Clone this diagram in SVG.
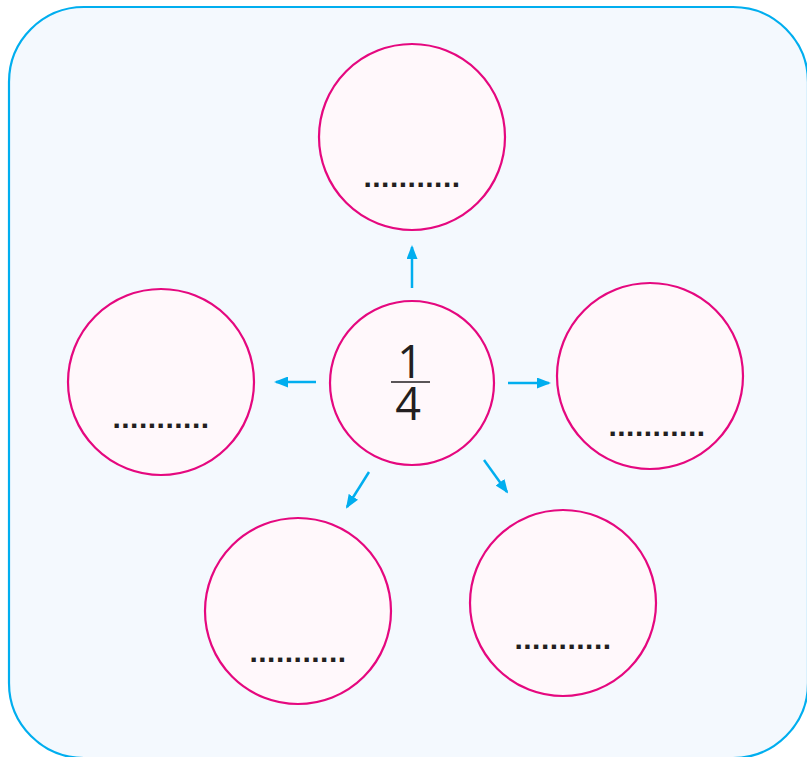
<svg xmlns="http://www.w3.org/2000/svg" width="807" height="757" viewBox="0 0 807 757">
<style>
.node{fill:#FFF8FB;stroke:#E5087F;stroke-width:2.2}
.dots{font-family:"Liberation Sans",Arial,sans-serif;font-weight:bold;font-size:30px;fill:#231F20;text-anchor:middle;letter-spacing:0.5px}
.num{font-family:"Open Sans","Liberation Sans",sans-serif;font-size:45px;font-weight:500;fill:#231F20;text-anchor:middle}
.conn{stroke:#00AEEF;stroke-width:2.5;fill:none;marker-end:url(#ah)}
</style>
<defs>
<marker id="ah" markerWidth="14" markerHeight="11" refX="12" refY="5.5" orient="auto" markerUnits="userSpaceOnUse">
<path d="M0,0 L14,5.5 L0,11 Z" fill="#00AEEF"/>
</marker>
</defs>
<rect x="9" y="7" width="799" height="751" rx="75" ry="75" fill="#F4F9FE" stroke="#00AEEF" stroke-width="2.2"/>
<g id="connectors">
<line class="conn" x1="412" y1="288" x2="412" y2="247"/>
<line class="conn" x1="316" y1="382" x2="276" y2="382"/>
<line class="conn" x1="508" y1="383" x2="549" y2="383"/>
<line class="conn" x1="369" y1="472" x2="347" y2="507"/>
<line class="conn" x1="484" y1="460" x2="507" y2="492"/>
</g>
<g id="center">
<circle class="node" cx="412" cy="383" r="82"/>
<line x1="391" y1="382" x2="430" y2="382" stroke="#231F20" stroke-width="1.3"/>
<text class="num"><tspan x="410" y="378">1</tspan><tspan x="408" y="420">4</tspan></text>
</g>
<g id="top">
<circle class="node" cx="412" cy="137" r="93"/>
<text class="dots" x="412" y="187">...........</text>
</g>
<g id="left">
<circle class="node" cx="161" cy="382" r="93"/>
<text class="dots" x="161" y="428">...........</text>
</g>
<g id="right">
<circle class="node" cx="650" cy="376" r="93"/>
<text class="dots" x="657" y="436">...........</text>
</g>
<g id="bottom-left">
<circle class="node" cx="298" cy="611" r="93"/>
<text class="dots" x="298" y="662">...........</text>
</g>
<g id="bottom-right">
<circle class="node" cx="563" cy="603" r="93"/>
<text class="dots" x="563" y="649">...........</text>
</g>
</svg>
